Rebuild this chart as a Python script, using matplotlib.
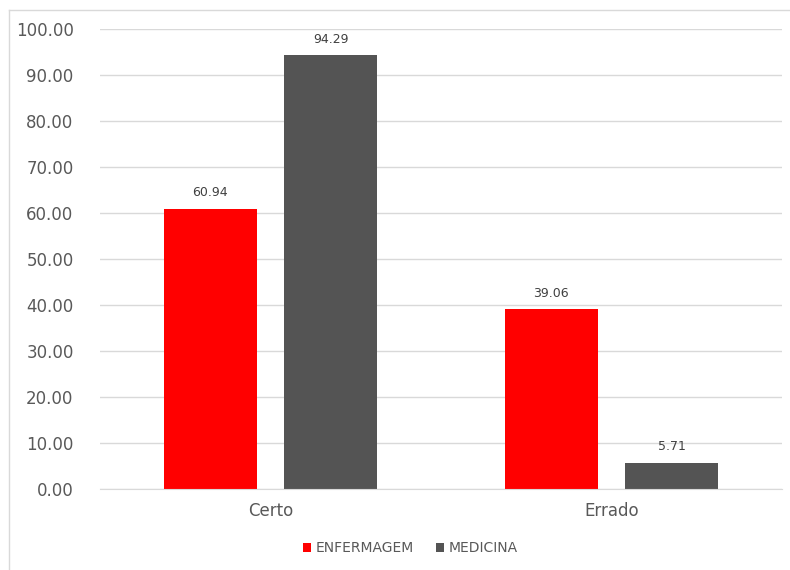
import matplotlib
matplotlib.use("Agg")
import matplotlib.pyplot as plt
from matplotlib.patches import Patch
from matplotlib.lines import Line2D
import numpy as np

categories = ["Certo", "Errado"]
enfermagem = [60.94, 39.06]
medicina = [94.29, 5.71]
series_names = ["ENFERMAGEM", "MEDICINA"]
colors = ["#FF0000", "#545454"]
yticks = [0, 10, 20, 30, 40, 50, 60, 70, 80, 90, 100]

plt.rcParams["font.family"] = ["DejaVu Sans"]
text_color = "#595959"

fig = plt.figure(figsize=(7.9, 5.7), dpi=100)
ax = fig.add_axes([100 / 790, 81 / 570, 682 / 790, 460 / 570])

x = np.arange(len(categories))
width = 0.273
offset = width / 2 + 0.04
for vals, name, col, sign in [(enfermagem, series_names[0], colors[0], -1),
                              (medicina, series_names[1], colors[1], 1)]:
    bars = ax.bar(x + sign * offset, vals, width, color=col, label=name, zorder=3)
    for b, v in zip(bars, vals):
        ax.text(b.get_x() + b.get_width() / 2, v + 2.1, f"{v:.2f}",
                ha="center", va="bottom", fontsize=9, color="#404040", zorder=4)

ax.set_xlim(-0.5, 1.5)
ax.set_ylim(0, 100)
ax.set_yticks(yticks)
ax.set_yticklabels([f"{t:.2f}" for t in yticks])
ax.set_xticks(x)
ax.set_xticklabels(categories)
ax.tick_params(axis="y", length=0, pad=19, labelsize=12, labelcolor=text_color)
ax.tick_params(axis="x", length=0, pad=9, labelsize=12, labelcolor=text_color)
ax.grid(axis="y", color="#D9D9D9", linewidth=1, zorder=0)
for s in ["top", "right", "left"]:
    ax.spines[s].set_visible(False)
ax.spines["bottom"].set_color("#D9D9D9")
ax.spines["bottom"].set_zorder(5)

handles = [Patch(facecolor=c, label=n) for c, n in zip(colors, series_names)]
fig.legend(handles=handles, loc="center", bbox_to_anchor=(410 / 790, 1 - 548 / 570),
           ncol=2, frameon=False, fontsize=10, handlelength=0.6, handleheight=0.6,
           handletextpad=0.3, columnspacing=1.6, labelcolor=text_color)

# chart-area frame: left and top edges
frame_x = 8.5 / 790
frame_y = 1 - 9.5 / 570
fig.lines.append(Line2D([frame_x, frame_x], [0, frame_y], transform=fig.transFigure,
                        color="#D9D9D9", linewidth=1))
fig.lines.append(Line2D([frame_x, 1], [frame_y, frame_y], transform=fig.transFigure,
                        color="#D9D9D9", linewidth=1))

fig.savefig("out.png", dpi=100)
